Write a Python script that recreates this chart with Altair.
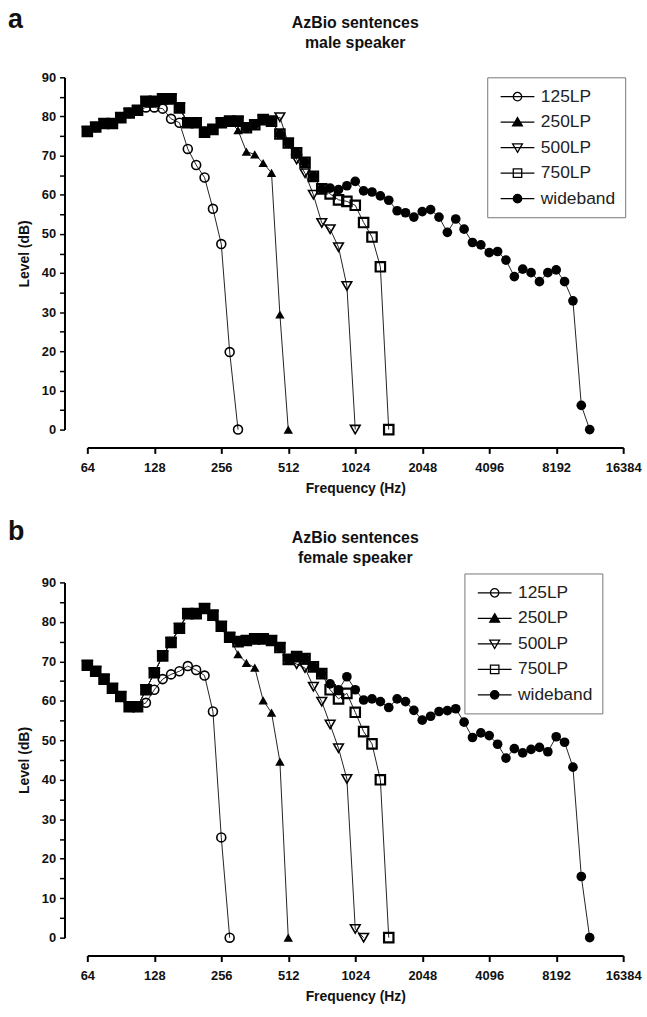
import altair as alt
import pandas as pd

FONT = "Liberation Sans"

# 1/8-octave analysis frequencies (Hz)
FREQ_HZ = [64, 69.8, 76.1, 83.0, 90.5, 98.7, 107.6, 117.4, 128, 139.6,
           152.2, 166.0, 181.0, 197.4, 215.3, 234.8, 256, 279.2, 304.4, 332.0,
           362.0, 394.8, 430.5, 469.5, 512, 558.3, 608.9, 664.0, 724.1, 789.6,
           861.1, 939.0, 1024, 1116.7, 1217.7, 1327.9, 1448.2, 1579.3, 1722.2, 1878.1,
           2048, 2233.4, 2435.5, 2655.9, 2896.3, 3158.5, 3444.4, 3756.2, 4096, 4466.8,
           4871.0, 5311.9, 5792.6, 6317.0, 6888.7, 7512.4, 8192, 8933.6, 9742.1, 10623.7,
           11585.2]

SERIES = ["125LP", "250LP", "500LP", "750LP", "wideband"]
X_TICKS = [64, 128, 256, 512, 1024, 2048, 4096, 8192, 16384]
Y_TICKS = [0, 5, 10, 15, 20, 25, 30, 35, 40, 45, 50, 55, 60, 65, 70, 75, 80, 85, 90]

# ---- panel a: male speaker (dB) ----
WB_A = [76.2, 77.3, 78.2, 78.2, 79.7, 80.9, 81.6, 83.9, 83.9, 84.5,
        84.5, 82.2, 78.4, 78.4, 76.0, 76.7, 78.4, 78.8, 78.8, 77.1,
        77.9, 79.2, 78.8, 75.5, 73.2, 70.7, 68.3, 64.7, 61.5, 61.7,
        61.3, 62.3, 63.4, 61.0, 60.7, 59.7, 58.6, 55.9, 55.4, 54.3,
        55.7, 56.2, 54.3, 50.4, 53.8, 51.2, 47.8, 47.2, 45.2, 45.5,
        43.3, 39.1, 41.0, 40.1, 37.8, 40.1, 40.8, 37.8, 32.9, 6.2, 0.0]
LP125_A = WB_A[:7] + [82.3, 82.3, 82.0, 79.4, 78.4, 71.7, 67.6, 64.4, 56.4, 47.4, 19.8, 0.0]
LP250_A = WB_A[:18] + [76.5, 71.0, 70.3, 68.1, 65.6, 29.4, 0.0]
LP500_A = WB_A[:23] + [79.8, 73.2, 69.0, 65.5, 60.0, 52.8, 51.2, 46.6, 36.7, 0.0]
LP750_A = WB_A[:29] + [60.2, 58.7, 58.3, 57.3, 52.9, 49.2, 41.6, 0.0]

# ---- panel b: female speaker (dB) ----
WB_B = [69.0, 67.5, 65.5, 63.2, 61.1, 58.5, 58.5, 62.8, 67.1, 71.4,
        74.8, 78.4, 82.1, 82.1, 83.4, 81.7, 78.9, 76.1, 75.0, 75.3,
        75.7, 75.7, 75.3, 73.5, 70.5, 71.2, 70.7, 68.6, 66.9, 64.3,
        62.8, 66.1, 62.8, 60.2, 60.5, 59.8, 58.3, 60.5, 59.8, 57.6,
        55.1, 56.1, 57.3, 57.5, 58.0, 54.6, 50.7, 51.9, 51.2, 49.0,
        45.5, 47.9, 46.8, 47.7, 48.2, 47.1, 50.9, 49.5, 43.2, 15.5, 0.0]
LP125_B = WB_B[:7] + [59.5, 62.8, 65.5, 66.7, 67.5, 68.8, 67.8, 66.4, 57.3, 25.4, 0.0]
LP250_B = WB_B[:18] + [71.8, 69.6, 68.4, 60.1, 57.0, 44.6, 0.0]
LP500_B = WB_B[:25] + [69.3, 68.3, 63.6, 59.8, 54.0, 48.0, 40.2, 2.2, 0.0]
LP750_B = WB_B[:29] + [62.8, 60.5, 61.9, 57.1, 52.2, 49.1, 40.0, 0.0]

# marker styles: shape, filled, size, strokeWidth
STYLES = {
    "125LP": ("circle", False, 81, 1.6),
    "250LP": ("triangle-up", True, 90, 1.0),
    "500LP": ("triangle-down", False, 95, 1.6),
    "750LP": ("square", False, 90, 2.2),
    "wideband": ("circle", True, 95, 1.0),
}

# legend glyphs: a short line with the marker on it
LEGEND_PATHS = [
    "M-2,0L2,0M-0.5,0A0.5,0.5,0,1,0,0.5,0A0.5,0.5,0,1,0,-0.5,0Z",
    "M-2,0L2,0M0,-0.55L0.58,0.45L-0.58,0.45Z",
    "M-2,0L2,0M0,0.55L0.58,-0.45L-0.58,-0.45Z",
    "M-2,0L2,0M-0.5,-0.5L0.5,-0.5L0.5,0.5L-0.5,0.5Z",
    "M-2,0L2,0M-0.5,0A0.5,0.5,0,1,0,0.5,0A0.5,0.5,0,1,0,-0.5,0Z",
]
LEGEND_FILLS = ["transparent", "black", "transparent", "transparent", "black"]
LEGEND_STROKES = ["black", "black", "black", "black", "black"]


def make_df(series_lists):
    rows = []
    for name, vals in zip(SERIES, series_lists):
        for i, v in enumerate(vals):
            rows.append({"series": name, "freq": FREQ_HZ[i], "level": v, "idx": i})
    return pd.DataFrame(rows)


def panel(df, title_lines, letter, height, legend_x, legend_y, title_offset, letter_y):
    base = alt.Chart(df)
    x = alt.X(
        "freq:Q",
        scale=alt.Scale(type="log", base=2, domain=[64, 16384], nice=False, zero=False),
        axis=alt.Axis(
            values=X_TICKS, format="d", title="Frequency (Hz)", offset=18,
            grid=False, labelFlush=False, labelOverlap=False, labelBound=False,
            tickSize=6, tickWidth=2, tickColor="black", domainWidth=2, domainColor="black",
            labelFont=FONT, labelFontWeight="bold", labelFontSize=13, labelColor="#111",
            labelPadding=8, titleFont=FONT, titleFontWeight="bold", titleFontSize=14,
            titleColor="#111", titlePadding=7,
        ),
    )
    y = alt.Y(
        "level:Q",
        scale=alt.Scale(domain=[0, 90], nice=False, zero=False),
        axis=alt.Axis(
            values=Y_TICKS, labelExpr="datum.value % 10 === 0 ? datum.label : ''",
            title="Level (dB)", offset=23, grid=False, labelOverlap=False, labelFlush=False,
            tickSize=5, tickWidth=1.5, tickColor="black", domainWidth=2, domainColor="black",
            labelFont=FONT, labelFontWeight="bold", labelFontSize=13, labelColor="#111",
            labelPadding=4, titleFont=FONT, titleFontWeight="bold", titleFontSize=14,
            titleColor="#111", titlePadding=10,
        ),
    )
    lines = base.mark_line(color="#222", strokeWidth=1).encode(
        x=x, y=y, detail="series:N", order="idx:Q"
    )
    layers = [lines]
    for s in SERIES:
        shp, filled, size, sw = STYLES[s]
        layers.append(
            base.transform_filter(alt.datum.series == s)
            .mark_point(shape=shp, filled=filled, size=size, strokeWidth=sw,
                        color="black", opacity=1)
            .encode(x=x, y=y)
        )
    leg = alt.Legend(
        orient="none", legendX=legend_x, legendY=legend_y, title=None,
        labelFont=FONT, labelFontSize=17.5, labelColor="#222",
        strokeColor="#777", fillColor="white", padding=10,
        symbolSize=289, symbolStrokeWidth=1.3, symbolStrokeColor="black",
        symbolOffset=11, labelOffset=14, rowPadding=7.7,
    )
    legend_layer = (
        base.transform_filter("datum.level < -1000")
        .mark_point(strokeWidth=1.3, opacity=1)
        .encode(
            x=x, y=y,
            shape=alt.Shape("series:N", scale=alt.Scale(domain=SERIES, range=LEGEND_PATHS), legend=leg),
            fill=alt.Fill("series:N", scale=alt.Scale(domain=SERIES, range=LEGEND_FILLS), legend=leg),
            stroke=alt.Stroke("series:N", scale=alt.Scale(domain=SERIES, range=LEGEND_STROKES), legend=leg),
        )
    )
    layers.append(legend_layer)
    letter_layer = alt.Chart(pd.DataFrame({"label": [letter]})).mark_text(
        align="left", baseline="alphabetic", fontSize=27, fontWeight="bold",
        font=FONT, color="#111"
    ).encode(x=alt.value(-80), y=alt.value(letter_y), text="label:N")
    layers.append(letter_layer)
    return alt.layer(*layers).properties(
        width=540, height=height,
        title=alt.TitleParams(
            text=title_lines, anchor="middle", frame="group", font=FONT,
            fontSize=16, fontWeight="bold", color="#111", lineHeight=20, offset=title_offset,
        ),
    )


df_a = make_df([LP125_A, LP250_A, LP500_A, LP750_A, WB_A])
df_b = make_df([LP125_B, LP250_B, LP500_B, LP750_B, WB_B])

pa = panel(df_a, ["AzBio sentences", "male speaker"], "a", 355, 403, 0, -45, -50)
pb = panel(df_b, ["AzBio sentences", "female speaker"], "b", 358, 380, -9, -48, -43)

chart = (
    alt.vconcat(pa, pb, spacing=23)
    .resolve_scale(x="independent", y="independent", shape="independent",
                   fill="independent", stroke="independent")
    .resolve_legend(shape="independent", fill="independent", stroke="independent")
    .properties(padding={"left": 8, "top": 2, "right": 5, "bottom": 5}, background="white")
    .configure_view(stroke=None)
)

chart.save("out.html", embed_options={"renderer": "svg", "actions": False})
